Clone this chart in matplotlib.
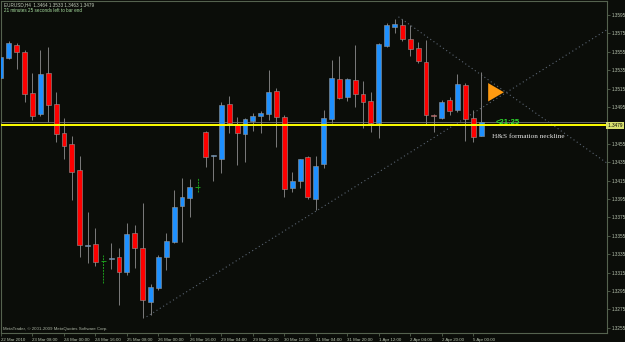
import matplotlib
matplotlib.use('Agg')
import matplotlib.pyplot as plt
from matplotlib.patches import Polygon

# ---- data (EURUSD H4) ----
opens  = [1.3527, 1.3548, 1.3562, 1.3555, 1.3510, 1.3487, 1.3532, 1.3498, 1.3467, 1.3455,
          1.3427, 1.3344, 1.3346, 1.3328, 1.3330, 1.3332, 1.3316, 1.3358, 1.3342, 1.3283,
          1.3298, 1.3332, 1.3348, 1.3387, 1.3396, 1.3408, 1.3468, 1.3442, 1.3439, 1.3498,
          1.3477, 1.3466, 1.3480, 1.3485, 1.3487, 1.3512, 1.3484, 1.3407, 1.3415, 1.3441,
          1.3395, 1.3433, 1.3482, 1.3525, 1.3506, 1.3524, 1.3509, 1.3502, 1.3478, 1.3561,
          1.3582, 1.3584, 1.3569, 1.3559, 1.3544, 1.3486, 1.3483, 1.3503, 1.3492, 1.3519,
          1.3483, 1.3464]
highs  = [1.3566, 1.3567, 1.3565, 1.3557, 1.3532, 1.3557, 1.3560, 1.3511, 1.3483, 1.3464,
          1.3442, 1.3381, 1.3363, 1.3334, 1.3347, 1.3342, 1.3369, 1.3367, 1.3391, 1.3303,
          1.3334, 1.3358, 1.3405, 1.3418, 1.3417, 1.3418, 1.3469, 1.3443, 1.3500, 1.3507,
          1.3484, 1.3483, 1.3489, 1.3491, 1.3535, 1.3516, 1.3486, 1.3424, 1.3439, 1.3442,
          1.3442, 1.3492, 1.3546, 1.3550, 1.3527, 1.3562, 1.3523, 1.3511, 1.3565, 1.3586,
          1.3591, 1.3591, 1.3584, 1.3566, 1.3568, 1.3487, 1.3503, 1.3506, 1.3531, 1.3521,
          1.3492, 1.3533]
lows   = [1.3517, 1.3547, 1.3536, 1.3500, 1.3481, 1.3485, 1.3479, 1.3457, 1.3439, 1.3394,
          1.3332, 1.3325, 1.3322, 1.3304, 1.3319, 1.3280, 1.3312, 1.3320, 1.3266, 1.3269,
          1.3296, 1.3318, 1.3347, 1.3348, 1.3375, 1.3403, 1.3430, 1.3415, 1.3423, 1.3467,
          1.3432, 1.3435, 1.3469, 1.3467, 1.3481, 1.3452, 1.3397, 1.3403, 1.3407, 1.3395,
          1.3383, 1.3429, 1.3478, 1.3504, 1.3502, 1.3495, 1.3472, 1.3468, 1.3461, 1.3560,
          1.3575, 1.3567, 1.3550, 1.3543, 1.3477, 1.3468, 1.3482, 1.3486, 1.3490, 1.3458,
          1.3457, 1.3463]
closes = [1.3549, 1.3565, 1.3555, 1.3509, 1.3485, 1.3531, 1.3497, 1.3466, 1.3453, 1.3424,
          1.3345, 1.3345, 1.3326, 1.3328, 1.3331, 1.3316, 1.3357, 1.3342, 1.3285, 1.3299,
          1.3332, 1.3349, 1.3386, 1.3397, 1.3408, 1.3408, 1.3441, 1.3443, 1.3497, 1.3478,
          1.3467, 1.3482, 1.3485, 1.3489, 1.3511, 1.3484, 1.3406, 1.3415, 1.3438, 1.3397,
          1.3431, 1.3483, 1.3527, 1.3505, 1.3525, 1.3509, 1.3500, 1.3478, 1.3563, 1.3584,
          1.3585, 1.3569, 1.3558, 1.3545, 1.3486, 1.3485, 1.3500, 1.3491, 1.3520, 1.3482,
          1.3462, 1.3479]

x_labels = ["22 Mar 2010", "23 Mar 08:00", "24 Mar 00:00", "24 Mar 16:00", "25 Mar 08:00",
            "26 Mar 00:00", "26 Mar 16:00", "29 Mar 04:00", "29 Mar 20:00", "30 Mar 12:00",
            "31 Mar 04:00", "31 Mar 20:00", "1 Apr 12:00", "2 Apr 04:00", "2 Apr 20:00",
            "5 Apr 00:00"]
x_label_bars = [0, 4, 8, 12, 16, 20, 24, 28, 32, 36, 40, 44, 48, 52, 56, 60]
y_ticks = [1.3595, 1.3575, 1.3555, 1.3535, 1.3515, 1.3495, 1.3455, 1.3435, 1.3415,
           1.3395, 1.3375, 1.3355, 1.3335, 1.3315, 1.3295, 1.3275, 1.3255]
bid_price = 1.3479
neckline = 1.3475
trend_up = ([18.5, 77.0], [1.3267, 1.3579])
trend_down = ([50.5, 77.0], [1.3593, 1.3434])
triangle_x = [61.9, 61.9, 63.9]
triangle_y = [1.3521, 1.3501, 1.3511]

# ---- style ----
bg = '#0b0d09'
frame = '#55624f'
txt = '#b8c4b0'
bull = '#1e90ff'
bear = '#ff0000'
wick = '#7c7c7c'
edge = '#969696'
doji_c = '#1c9c1c'

W, H = 625, 342
fig = plt.figure(figsize=(W / 100, H / 100), dpi=100)
fig.patch.set_facecolor(bg)
left, right, top, bottom = 1, 607, 1, 333.3
ax = fig.add_axes([left / W, 1 - bottom / H, (right - left) / W, (bottom - top) / H])
ax.set_facecolor(bg)
ax.set_xlim(0.0, 77.0)
ax.set_ylim(1.3249, 1.36102)

for s in ax.spines.values():
    s.set_color(frame)
    s.set_linewidth(0.8)

# bid line and neckline
ax.axhline(bid_price, color='#666666', lw=0.7, zorder=1)
ax.axhline(neckline, color='#ffff00', lw=1.4, zorder=5)

# trend lines
ax.plot(*trend_up, color='#5a6472', lw=0.8, ls=(0, (1, 2.5)), zorder=1)
ax.plot(*trend_down, color='#5a6472', lw=0.8, ls=(0, (1, 2.5)), zorder=1)

# candles
bw = 0.62
for i, (o, h, l, c) in enumerate(zip(opens, highs, lows, closes)):
    if abs(c - o) < 1e-9:
        ax.vlines(i, l, h, color=doji_c, lw=0.7, ls=(0, (2, 1)), zorder=3)
        ax.hlines(o, i - 0.3, i + 0.3, color=doji_c, lw=0.7, zorder=3)
        continue
    ax.vlines(i, l, h, color=wick, lw=0.7, zorder=2)
    col = bull if c > o else bear
    ax.bar(i, abs(c - o), bottom=min(o, c), width=bw, color=col,
           edgecolor=edge, linewidth=0.4, zorder=3)

# orange triangle
ax.add_patch(Polygon(list(zip(triangle_x, triangle_y)), closed=True,
                     facecolor='#ff9a10', edgecolor='none', zorder=6))

# annotations
ax.text(62.8, 1.3478, "<21:25", color='#2ee02e', fontsize=5.5, fontweight='bold',
        family='Liberation Sans', va='center', ha='left', zorder=7)
ax.text(62.4, 1.3463, "H&S formation neckline", color='#e6e6e6', fontsize=5.2,
        family='Liberation Serif', va='center', ha='left', zorder=7)

# axes ticks
ax.yaxis.tick_right()
ax.set_yticks(y_ticks)
ax.set_yticklabels([f"{v:.4f}" for v in y_ticks])
ax.tick_params(axis='y', colors=frame, labelcolor=txt, labelsize=3.3, length=2,
               width=0.6, pad=1.5)
ax.set_xticks(x_label_bars)
ax.set_xticklabels(x_labels)
ax.tick_params(axis='x', colors=frame, labelcolor=txt, labelsize=3.2, length=2.5,
               width=0.6, pad=0.8)
for lbl in ax.get_xticklabels() + ax.get_yticklabels():
    lbl.set_family('Liberation Sans')
for lbl in ax.get_xticklabels():
    lbl.set_ha('left')

# highlighted bid label
ax.text(1.0, neckline, f" {bid_price:.4f} ", transform=ax.get_yaxis_transform(),
        fontsize=3.3, family='Liberation Sans', color='#000000', va='center', ha='left',
        bbox=dict(boxstyle='square,pad=0.15', facecolor='#d8e070', edgecolor='none'),
        zorder=8, clip_on=False)

# header/footer texts
fig.text(3.5 / W, 1 - 5 / H, "EURUSD,H4  1.3464 1.3533 1.3463 1.3479", color='#c6d0be',
         fontsize=3.3, family='Liberation Sans', va='center', ha='left')
fig.text(3.5 / W, 1 - 10.5 / H, "21 minutes 25 seconds left to bar end", color='#a8e0a0',
         fontsize=3.3, family='Liberation Sans', va='center', ha='left')
fig.text(3 / W, 1 - 329 / H, "MetaTrader, \u00a9 2001-2009 MetaQuotes Software Corp.",
         color='#a8b0a0', fontsize=3.2, family='Liberation Sans', va='center', ha='left')

fig.savefig('out.png', dpi=100, facecolor=bg)
